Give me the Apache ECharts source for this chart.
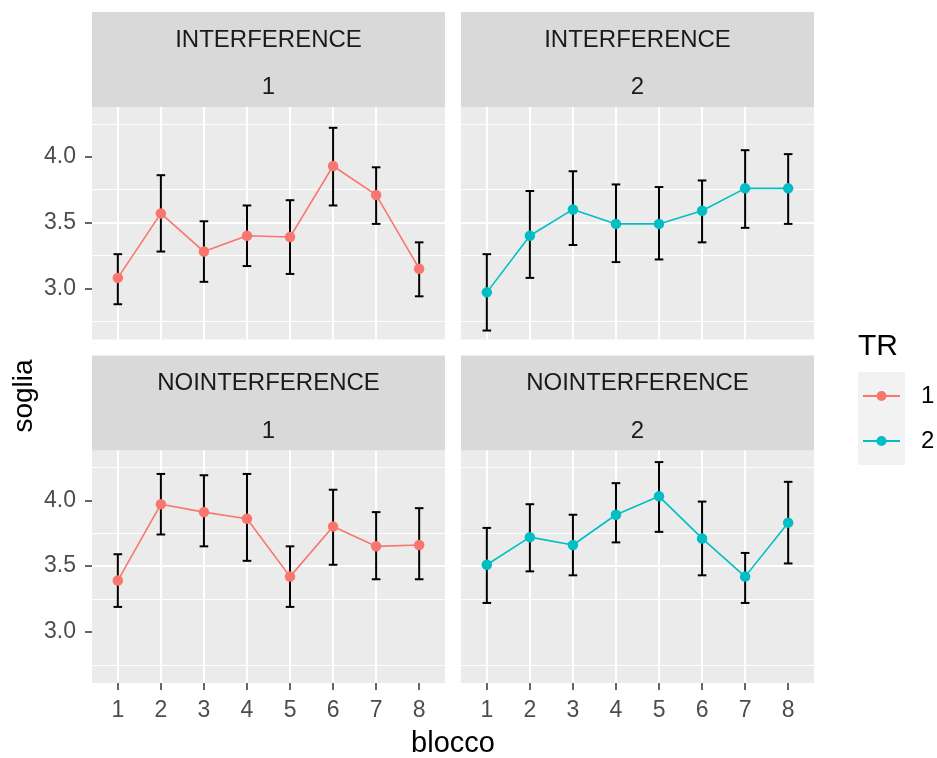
<!DOCTYPE html>
<html><head><meta charset="utf-8">
<script src="https://cdn.jsdelivr.net/npm/echarts@6/dist/echarts.min.js"></script>
<style>html,body{margin:0;padding:0;background:#fff}#c{width:937px;height:758px}</style>
</head><body><div id="c"></div>
<script>
// ---- data ----
const blocks = [1, 2, 3, 4, 5, 6, 7, 8];
const facetRows = ['INTERFERENCE', 'NOINTERFERENCE'];
const facetCols = ['1', '2'];
const trLevels = ['1', '2'];
const yTickValues = [3.0, 3.5, 4.0];

const intTR1Mean = [3.08, 3.57, 3.28, 3.40, 3.39, 3.93, 3.71, 3.15];
const intTR1Low  = [2.88, 3.28, 3.05, 3.17, 3.11, 3.63, 3.49, 2.94];
const intTR1High = [3.26, 3.86, 3.51, 3.63, 3.67, 4.22, 3.92, 3.35];

const intTR2Mean = [2.97, 3.40, 3.60, 3.49, 3.49, 3.59, 3.76, 3.76];
const intTR2Low  = [2.68, 3.08, 3.33, 3.20, 3.22, 3.35, 3.46, 3.49];
const intTR2High = [3.26, 3.74, 3.89, 3.79, 3.77, 3.82, 4.05, 4.02];

const noTR1Mean = [3.39, 3.97, 3.91, 3.86, 3.42, 3.80, 3.65, 3.66];
const noTR1Low  = [3.19, 3.74, 3.65, 3.54, 3.19, 3.51, 3.40, 3.40];
const noTR1High = [3.59, 4.20, 4.19, 4.20, 3.65, 4.08, 3.91, 3.94];

const noTR2Mean = [3.51, 3.72, 3.66, 3.89, 4.03, 3.71, 3.42, 3.83];
const noTR2Low  = [3.22, 3.46, 3.43, 3.68, 3.76, 3.43, 3.22, 3.52];
const noTR2High = [3.79, 3.97, 3.89, 4.13, 4.29, 3.99, 3.60, 4.14];

// ---- layout / style ----
const FONT = '"Liberation Sans", Arial, sans-serif';
const trColors = { '1': '#F8766D', '2': '#00BFC4' };
const PANEL_LEFT = [92, 461];
const PANEL_W = 353;
const STRIP_TOP = [12, 355.5];
const STRIP_H = 95;
const PLOT_H = 232.5;

const panels = [
  { row: 0, col: 0, mean: intTR1Mean, low: intTR1Low, high: intTR1High },
  { row: 0, col: 1, mean: intTR2Mean, low: intTR2Low, high: intTR2High },
  { row: 1, col: 0, mean: noTR1Mean, low: noTR1Low, high: noTR1High },
  { row: 1, col: 1, mean: noTR2Mean, low: noTR2Low, high: noTR2High }
];

function renderErr(params, api) {
  const x = api.value(0), lo = api.value(1), hi = api.value(2);
  const pLo = api.coord([x, lo]);
  const pHi = api.coord([x, hi]);
  const cl = api.coord([x - 0.1, hi]);
  const cr = api.coord([x + 0.1, hi]);
  const hw = (cr[0] - cl[0]) / 2;
  const st = { stroke: '#000', lineWidth: 2 };
  return {
    type: 'group',
    children: [
      { type: 'line', shape: { x1: pLo[0], y1: pLo[1], x2: pHi[0], y2: pHi[1] }, style: st },
      { type: 'line', shape: { x1: pHi[0] - hw, y1: pHi[1], x2: pHi[0] + hw, y2: pHi[1] }, style: st },
      { type: 'line', shape: { x1: pLo[0] - hw, y1: pLo[1], x2: pLo[0] + hw, y2: pLo[1] }, style: st }
    ]
  };
}

const grids = [], xAxes = [], yAxes = [], series = [], graphics = [];

panels.forEach((p, i) => {
  const left = PANEL_LEFT[p.col];
  const stripTop = STRIP_TOP[p.row];
  grids.push({
    left: left, top: stripTop + STRIP_H, width: PANEL_W, height: PLOT_H,
    show: true, backgroundColor: '#EBEBEB', borderWidth: 0, containLabel: false
  });
  xAxes.push({
    type: 'value', gridIndex: i, min: 0.4, max: 8.6, splitNumber: 4,
    axisLine: { show: false },
    axisTick: { show: p.row === 1, customValues: blocks, length: 7, lineStyle: { color: '#333333', width: 1.5 } },
    axisLabel: { show: p.row === 1, customValues: blocks, color: '#4D4D4D', fontSize: 23, fontFamily: FONT, margin: 16,
      formatter: v => String(v) },
    splitLine: { show: true, showMinLine: false, showMaxLine: false, lineStyle: { color: '#FFFFFF', width: 2 } },
    minorTick: { show: false, splitNumber: 2 },
    minorSplitLine: { show: true, lineStyle: { color: '#FFFFFF', width: 2 } }
  });
  yAxes.push({
    type: 'value', gridIndex: i, min: 2.612, max: 4.378, splitNumber: 4,
    axisLine: { show: false },
    axisTick: { show: p.col === 0, customValues: yTickValues, length: 7, lineStyle: { color: '#333333', width: 1.5 } },
    axisLabel: { show: p.col === 0, customValues: yTickValues, color: '#4D4D4D', fontSize: 23, fontFamily: FONT, margin: 16,
      formatter: v => v.toFixed(1) },
    splitLine: { show: true, showMinLine: false, showMaxLine: false, lineStyle: { color: '#FFFFFF', width: 2 } },
    minorTick: { show: false, splitNumber: 2 },
    minorSplitLine: { show: true, lineStyle: { color: '#FFFFFF', width: 1 } }
  });
  const tr = trLevels[p.col];
  series.push({
    type: 'custom', xAxisIndex: i, yAxisIndex: i, z: 2, silent: true,
    renderItem: renderErr,
    encode: { x: 0, y: [1, 2] },
    data: blocks.map((b, k) => [b, p.low[k], p.high[k]])
  });
  series.push({
    type: 'line', name: tr, xAxisIndex: i, yAxisIndex: i, z: 3, silent: true,
    symbol: 'circle', symbolSize: 10.5, showSymbol: true,
    color: trColors[tr],
    itemStyle: { color: trColors[tr] },
    lineStyle: { color: trColors[tr], width: 1.6 },
    emphasis: { disabled: true },
    data: blocks.map((b, k) => [b, p.mean[k]])
  });
  // strip
  graphics.push({
    type: 'rect', left: left, top: stripTop, z: 0,
    shape: { width: PANEL_W, height: STRIP_H }, style: { fill: '#D9D9D9' }
  });
  graphics.push({
    type: 'text', x: left + PANEL_W / 2, y: stripTop + 28, z: 1,
    style: { text: facetRows[p.row], fill: '#1A1A1A', font: '24px ' + FONT, textAlign: 'center', textVerticalAlign: 'middle' }
  });
  graphics.push({
    type: 'text', x: left + PANEL_W / 2, y: stripTop + 75.5, z: 1,
    style: { text: facetCols[p.col], fill: '#1A1A1A', font: '24px ' + FONT, textAlign: 'center', textVerticalAlign: 'middle' }
  });
});

// axis titles, legend title, legend key background
graphics.push({
  type: 'text', x: (PANEL_LEFT[0] + PANEL_LEFT[1] + PANEL_W) / 2, y: 744, z: 1,
  style: { text: 'blocco', fill: '#000', font: '29px ' + FONT, textAlign: 'center', textVerticalAlign: 'middle' }
});
graphics.push({
  type: 'text', x: 24, y: 396, rotation: Math.PI / 2, z: 1,
  style: { text: 'soglia', fill: '#000', font: '28px ' + FONT, textAlign: 'center', textVerticalAlign: 'middle' }
});
graphics.push({
  type: 'text', x: 858, y: 346.5, z: 1,
  style: { text: 'TR', fill: '#000', font: '30px ' + FONT, textAlign: 'left', textVerticalAlign: 'middle' }
});
graphics.push({
  type: 'rect', left: 858, top: 372, z: 0,
  shape: { width: 47, height: 93 }, style: { fill: '#F2F2F2' }
});

const chart = echarts.init(document.getElementById('c'), null, { renderer: 'canvas' });
chart.setOption({
  animation: false,
  backgroundColor: '#FFFFFF',
  grid: grids,
  xAxis: xAxes,
  yAxis: yAxes,
  series: series,
  legend: {
    data: trLevels, orient: 'vertical', left: 862, top: 384, padding: 0,
    itemWidth: 37, itemHeight: 12.5, itemGap: 21, selectedMode: false,
    textStyle: { fontSize: 24, color: '#000', fontFamily: FONT, lineHeight: 24, padding: [0, 0, 0, 16] }
  },
  graphic: graphics
});
</script>
</body></html>
